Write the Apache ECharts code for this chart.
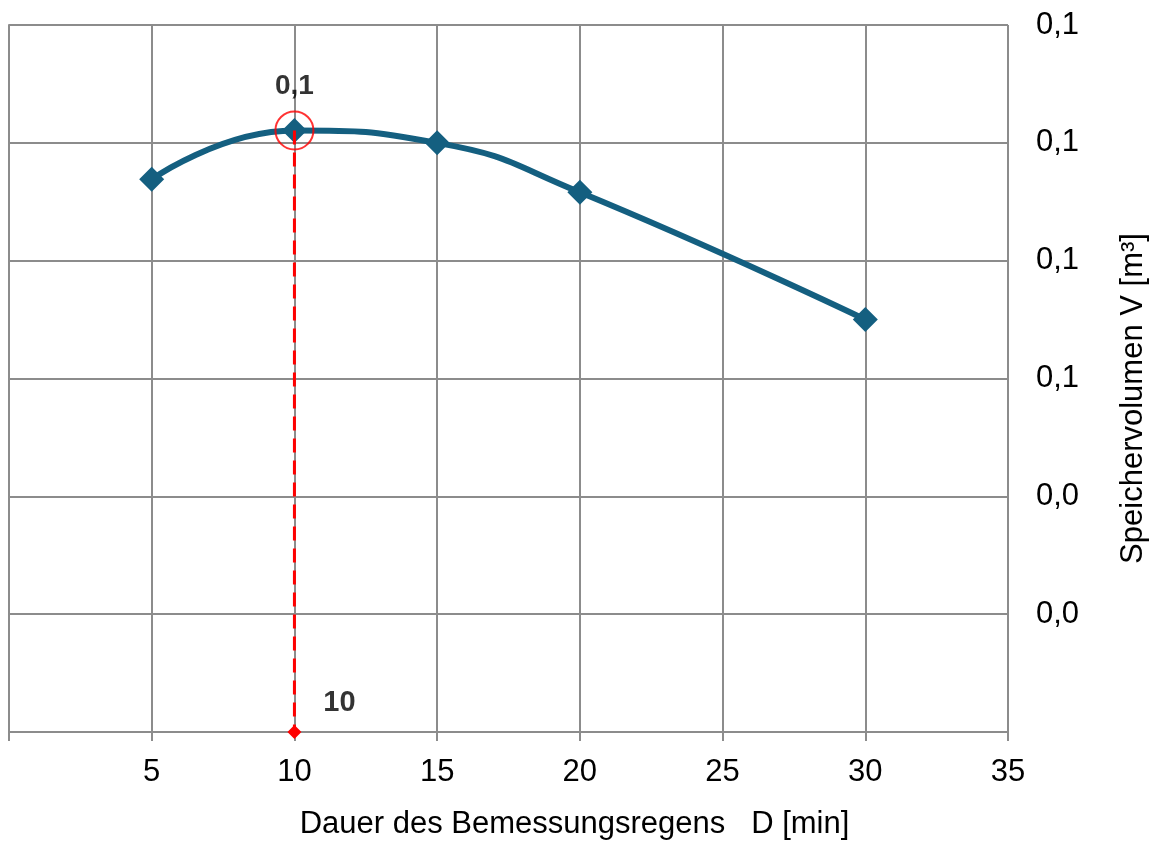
<!DOCTYPE html>
<html>
<head>
<meta charset="utf-8">
<script src="https://cdn.jsdelivr.net/npm/echarts@6/dist/echarts.min.js"></script>
<style>
  html, body { margin: 0; padding: 0; background: #fff; overflow: hidden; }
  #chart { width: 1157px; height: 845px; }
</style>
</head>
<body>
<div id="chart"></div>
<script>
// Rain duration D [min] and the storage volume V [m³] required for it
const durations = [5, 10, 15, 20, 30];
const volumes = [0.0938, 0.1021, 0.1000, 0.0916, 0.0700];

// Design point: the duration with the largest volume
const designDuration = 10;
const designVolume = 0.1021;

const xTicks = { min: 0, max: 35, interval: 5 };
const yTicks = { min: 0, max: 0.12, interval: 0.02 };

const FONT = '"Liberation Sans", Arial, sans-serif';
const GRID = '#8c8c8c';
const LINE = '#145f80';

const fmtDe = (v, d) => v.toFixed(d).replace('.', ',');

const chart = echarts.init(document.getElementById('chart'));
chart.setOption({
  animation: false,
  backgroundColor: '#fff',
  grid: { left: 9, right: 145, top: 25, bottom: 108, containLabel: false },
  xAxis: {
    type: 'value',
    min: xTicks.min, max: xTicks.max, interval: xTicks.interval,
    name: 'Dauer des Bemessungsregens   D [min]',
    nameLocation: 'middle',
    nameGap: 77,
    // title sits somewhat right of the plot centre
    nameTextStyle: { fontFamily: FONT, fontSize: 31, color: '#000', padding: [0, 0, 0, 132] },
    axisLine: { show: true, lineStyle: { color: GRID, width: 2 } },
    axisTick: { show: true, length: 9, lineStyle: { color: GRID, width: 2 } },
    axisLabel: {
      fontFamily: FONT, fontSize: 31, color: '#000', margin: 25,
      formatter: v => (v === 0 ? '' : String(v))
    },
    splitLine: { show: true, lineStyle: { color: GRID, width: 2 } }
  },
  yAxis: {
    type: 'value',
    position: 'right',
    min: yTicks.min, max: yTicks.max, interval: yTicks.interval,
    name: 'Speichervolumen V [m³]',
    nameLocation: 'middle',
    nameRotate: 90,
    nameGap: 110,
    // title sits slightly below the plot centre
    nameTextStyle: { fontFamily: FONT, fontSize: 31, color: '#000', padding: [0, 40, 0, 0] },
    axisLine: { show: true, lineStyle: { color: GRID, width: 2 } },
    axisTick: { show: true, length: 9, lineStyle: { color: GRID, width: 2 } },
    axisLabel: {
      fontFamily: FONT, fontSize: 31, color: '#000', margin: 28,
      formatter: v => (v === 0 ? '' : fmtDe(v, 1))
    },
    splitLine: { show: true, lineStyle: { color: GRID, width: 2 } }
  },
  series: [
    {
      name: 'Speichervolumen',
      type: 'line',
      data: durations.map((d, i) => [d, volumes[i]]),
      smooth: 0.5,
      symbol: 'diamond',
      symbolSize: 25,
      lineStyle: { color: LINE, width: 6 },
      itemStyle: { color: LINE },
      z: 3
    },
    {
      // dashed drop line from the design point down to the duration axis
      name: 'Bemessung',
      type: 'line',
      data: [
        { value: [designDuration, designVolume], symbol: 'none' },
        { value: [designDuration, yTicks.min], symbol: 'diamond', symbolSize: 14 }
      ],
      showSymbol: true,
      lineStyle: { color: '#ff0000', width: 3, type: [14, 8] },
      itemStyle: { color: '#ff0000' },
      z: 4
    },
    {
      // highlight ring and value labels at the design point
      name: 'Markierung',
      type: 'scatter',
      data: [
        {
          value: [designDuration, designVolume],
          symbol: 'circle',
          symbolSize: 38,
          itemStyle: { color: 'transparent', borderColor: '#ff0000', borderWidth: 2 },
          label: {
            show: true, position: 'top', distance: 10,
            formatter: p => fmtDe(p.value[1], 1),
            fontFamily: FONT, fontSize: 28, fontWeight: 'bold',
            color: '#000', textBorderWidth: 0
          }
        },
        {
          value: [designDuration, yTicks.min],
          symbolSize: 0,
          label: {
            show: true, position: 'inside', offset: [45, -29],
            formatter: p => String(p.value[0]),
            fontFamily: FONT, fontSize: 29, fontWeight: 'bold',
            color: '#000', textBorderWidth: 0
          }
        }
      ],
      z: 5
    }
  ]
});
</script>
</body>
</html>
